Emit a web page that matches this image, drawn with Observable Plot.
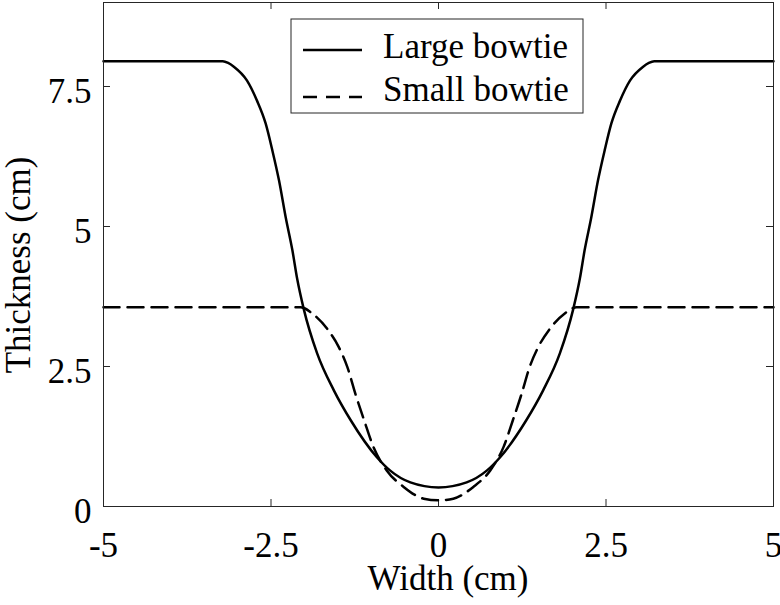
<!DOCTYPE html>
<html><head><meta charset="utf-8">
<script src="https://cdn.jsdelivr.net/npm/d3@7"></script>
<script src="https://cdn.jsdelivr.net/npm/@observablehq/plot@0.6"></script>
<style>body{margin:0;background:#fff} #chart{width:780px;height:605px}</style>
</head><body><div id="chart"></div><script>
// Data
const largeX = [-5, -3.22, -3.14, -3.05, -2.86, -2.71, -2.58, -2.48, -2.38, -2.28, -2.18, -2.11, -2.01, -1.81, -1.56, -1.31, -0.92, -0.72, -0.42, 0, 0.42, 0.72, 0.92, 1.31, 1.56, 1.81, 2.01, 2.11, 2.18, 2.28, 2.38, 2.48, 2.58, 2.71, 2.86, 3.05, 3.14, 3.22, 5];
const largeY = [7.95, 7.95, 7.92, 7.85, 7.61, 7.25, 6.84, 6.36, 5.82, 5.16, 4.57, 4.07, 3.52, 2.73, 2.07, 1.54, 0.88, 0.64, 0.43, 0.34, 0.43, 0.64, 0.88, 1.54, 2.07, 2.73, 3.52, 4.07, 4.57, 5.16, 5.82, 6.36, 6.84, 7.25, 7.61, 7.85, 7.92, 7.95, 7.95];
const smallX = [-5, -2.06, -2.0, -1.91, -1.66, -1.49, -1.36, -1.24, -1.11, -0.97, -0.77, -0.52, -0.22, 0, 0.22, 0.52, 0.77, 0.97, 1.11, 1.24, 1.36, 1.49, 1.66, 1.91, 2.0, 2.06, 5];
const smallY = [3.56, 3.56, 3.54, 3.47, 3.17, 2.85, 2.49, 2.01, 1.54, 1.06, 0.64, 0.35, 0.14, 0.11, 0.14, 0.35, 0.64, 1.06, 1.54, 2.01, 2.49, 2.85, 3.17, 3.47, 3.54, 3.56, 3.56];
const xTicks = [-5, -2.5, 0, 2.5, 5];
const yTicks = [0, 2.5, 5, 7.5];
const seriesNames = ["Large bowtie", "Small bowtie"];
const xLabel = "Width (cm)";
const yLabel = "Thickness (cm)";

const W = 780, H = 605, mL = 103, mR = 7, mT = 2, mB = 99;
const fw = W - mL - mR, fh = H - mT - mB;
const ink = "#262626";
const font = "'Liberation Serif', 'Times New Roman', serif";
const large = largeX.map((x, i) => ({x, y: largeY[i]}));
const small = smallX.map((x, i) => ({x, y: smallY[i]}));
const tl = 7;

const svg = Plot.plot({
  width: W, height: H,
  marginLeft: mL, marginRight: mR, marginTop: mT, marginBottom: mB,
  style: {fontFamily: font, fontSize: "35px", background: "#fff", color: "#000"},
  x: {domain: [-5, 5]},
  y: {domain: [0, 9]},
  marks: [
    Plot.axisX(xTicks, {tickSize: 0, tickPadding: 26, tickFormat: d => String(d), label: null}),
    Plot.axisY(yTicks, {tickSize: 0, tickPadding: 12, dy: 5, tickFormat: d => String(d), label: null}),
    Plot.ruleX(xTicks, {x: d => d, insetTop: fh - tl, stroke: ink}),
    Plot.ruleX(xTicks, {x: d => d, insetBottom: fh - tl, stroke: ink}),
    Plot.ruleY(yTicks, {y: d => d, insetRight: fw - tl, stroke: ink}),
    Plot.ruleY(yTicks, {y: d => d, insetLeft: fw - tl, stroke: ink}),
    Plot.line(large, {x: "x", y: "y", stroke: "#000", strokeWidth: 2.5, curve: "monotone-x"}),
    Plot.line(small, {x: "x", y: "y", stroke: "#000", strokeWidth: 2.5, strokeDasharray: "16,8", curve: "monotone-x"}),
    Plot.frame({stroke: ink, strokeWidth: 1})
  ]
});

const s = d3.select(svg);
// axis titles
s.append("text").attr("x", 448).attr("y", 590).attr("text-anchor", "middle")
  .attr("font-family", font).attr("font-size", 35).attr("fill", "#000").text(xLabel);
s.append("text").attr("transform", "translate(30,265) rotate(-90)").attr("text-anchor", "middle")
  .attr("font-family", font).attr("font-size", 35).attr("fill", "#000").text(yLabel);
// legend
const lg = s.append("g");
lg.append("rect").attr("x", 291).attr("y", 19).attr("width", 292).attr("height", 94)
  .attr("fill", "#fff").attr("stroke", ink).attr("stroke-width", 1);
lg.append("line").attr("x1", 303).attr("x2", 362).attr("y1", 50).attr("y2", 50)
  .attr("stroke", "#000").attr("stroke-width", 2.5);
lg.append("line").attr("x1", 303).attr("x2", 362).attr("y1", 97).attr("y2", 97)
  .attr("stroke", "#000").attr("stroke-width", 2.5).attr("stroke-dasharray", "14,9");
lg.append("text").attr("x", 383).attr("y", 58).attr("text-anchor", "start").attr("font-family", font).attr("font-size", 35)
  .attr("fill", "#000").text(seriesNames[0]);
lg.append("text").attr("x", 383).attr("y", 101).attr("text-anchor", "start").attr("font-family", font).attr("font-size", 35)
  .attr("fill", "#000").text(seriesNames[1]);

document.getElementById("chart").append(svg);
</script></body></html>
